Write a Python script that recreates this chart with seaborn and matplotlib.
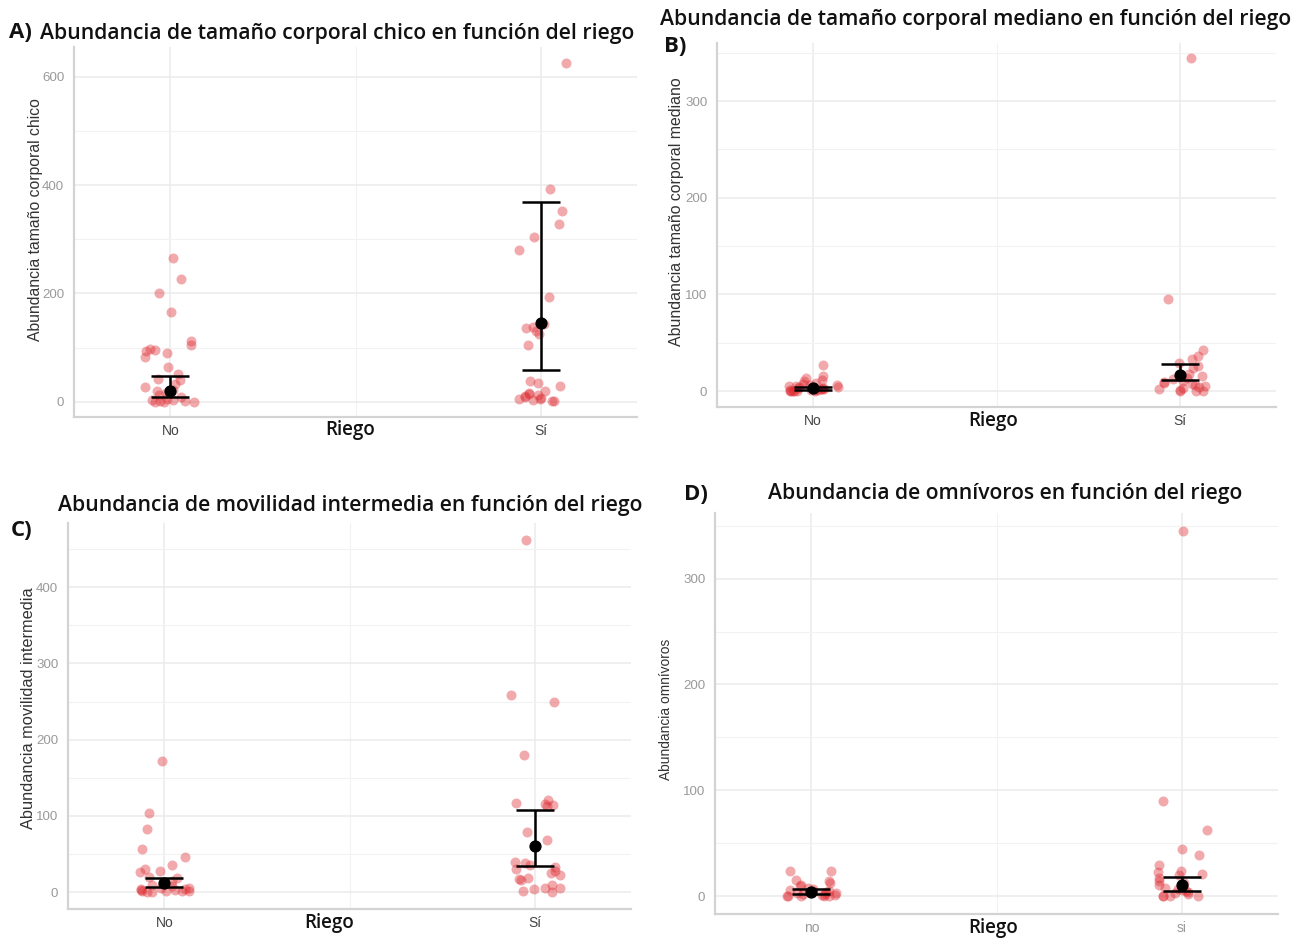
import numpy as np
import pandas as pd
import matplotlib
matplotlib.use("Agg")
import matplotlib.pyplot as plt
import seaborn as sns

# ---------------- data ----------------
categories_upper = ["No", "Sí"]
categories_lower = ["no", "si"]

# Panel A: tamaño corporal chico
a_no = [266, 226, 200, 165, 113, 105, 97, 96, 94, 90, 82, 64, 52, 42, 40, 33, 28, 22, 20, 16, 12, 8, 5, 4, 3, 2, 1, 0, 0, 0]
a_si = [625, 392, 352, 328, 305, 281, 193, 144, 139, 137, 130, 126, 104, 39, 34, 30, 20, 16, 14, 12, 10, 8, 7, 6, 5, 4, 2, 1]
a_mean = [20, 145]
a_low = [8, 58]
a_high = [48, 368]

# Panel B: tamaño corporal mediano
b_no = [27, 16, 13, 11, 10, 8, 7, 6, 5, 4, 4, 3, 3, 2, 2, 1, 1, 1, 0, 0, 0, 0, 0, 0, 5, 6, 2, 1]
b_si = [345, 95, 42, 36, 33, 29, 26, 24, 18, 16, 14, 12, 10, 9, 8, 7, 6, 5, 4, 3, 2, 1, 0, 0, 0]
b_mean = [3, 17]
b_low = [1.5, 11]
b_high = [4.5, 28]

# Panel C: movilidad intermedia
c_no = [172, 104, 83, 57, 46, 36, 31, 28, 26, 20, 18, 15, 12, 10, 8, 6, 5, 4, 3, 2, 2, 1, 1, 0, 0, 3, 4]
c_si = [462, 258, 250, 180, 121, 117, 115, 114, 113, 79, 68, 39, 38, 36, 33, 30, 28, 25, 22, 18, 17, 16, 10, 6, 5, 4, 1, 0]
c_mean = [12, 60]
c_low = [7, 34]
c_high = [19, 108]

# Panel D: omnívoros
d_no = [24, 24, 15, 14, 12, 10, 9, 8, 7, 6, 5, 5, 4, 3, 3, 2, 2, 1, 1, 0, 0, 0, 0, 0]
d_si = [345, 90, 62, 44, 39, 29, 24, 23, 21, 20, 17, 14, 12, 10, 8, 7, 6, 5, 4, 3, 2, 0, 0, 0, 0]
d_mean = [4, 10]
d_low = [2, 5]
d_high = [7, 18]

titles = [
    "Abundancia de tamaño corporal chico en función del riego",
    "Abundancia de tamaño corporal mediano en función del riego",
    "Abundancia de movilidad intermedia en función del riego",
    "Abundancia de omnívoros en función del riego",
]
ylabels = [
    "Abundancia tamaño corporal chico",
    "Abundancia tamaño corporal mediano",
    "Abundancia movilidad intermedia",
    "Abundancia omnívoros",
]
xlabel = "Riego"
letters = ["A)", "B)", "C)", "D)"]

# ---------------- style ----------------
sns.set_theme(style="white")
plt.rcParams["font.family"] = ["Open Sans", "DejaVu Sans"]
TICKFONT = ["Liberation Sans Narrow", "Liberation Sans", "DejaVu Sans"]

W, H = 1306, 938
fig = plt.figure(figsize=(W / 100, H / 100), dpi=100)
fig.patch.set_facecolor("white")


def axes_px(l, t, r, b):
    return fig.add_axes([l / W, 1 - b / H, (r - l) / W, (b - t) / H])


np.random.seed(3)


def panel(ax, no, si, mean, low, high, cats, ylim, yticks, xtick_color):
    df = pd.DataFrame({
        "Riego": [cats[0]] * len(no) + [cats[1]] * len(si),
        "valor": list(no) + list(si),
    })
    sns.stripplot(data=df, x="Riego", y="valor", order=cats, jitter=0.072,
                  color="#DD2A30", alpha=0.4, size=7.2, linewidth=0, ax=ax, zorder=3)
    mean = np.asarray(mean, float)
    yerr = np.vstack([mean - np.asarray(low, float), np.asarray(high, float) - mean])
    ax.errorbar([0, 1], mean, yerr=yerr, fmt="o", color="black", ms=7.8,
                elinewidth=1.8, capsize=13.5, capthick=1.8, zorder=5)
    ax.set_yticks(yticks)
    step = yticks[1] - yticks[0]
    minor = [v + step / 2 for v in list(yticks)]
    ax.set_yticks(minor, minor=True)
    ax.set_xticks([0.5], minor=True)
    ax.set_xlim(-0.26, 1.26)
    ax.set_ylim(*ylim)
    ax.grid(True, which="major", color="#EBEBEB", linewidth=1.1, zorder=0)
    ax.grid(True, which="minor", color="#F2F2F2", linewidth=0.8, zorder=0)
    ax.set_axisbelow(True)
    for s in ["top", "right"]:
        ax.spines[s].set_visible(False)
    for s in ["left", "bottom"]:
        ax.spines[s].set_color("#D3D3D3")
        ax.spines[s].set_linewidth(1.6)
    ax.tick_params(axis="both", which="both", length=0)
    ax.tick_params(axis="y", pad=7, labelcolor="#9A9A9A", labelsize=9.6)
    ax.tick_params(axis="x", pad=5, labelcolor=xtick_color, labelsize=10)
    for lab in ax.get_yticklabels() + ax.get_xticklabels():
        lab.set_family(TICKFONT)
    ax.set_xlabel("")
    ax.set_ylabel("")


axA = axes_px(74, 47, 637, 417)
panel(axA, a_no, a_si, a_mean, a_low, a_high, categories_upper, (-28, 655), [0, 200, 400, 600], "#444444")
axB = axes_px(717, 43, 1276, 407)
panel(axB, b_no, b_si, b_mean, b_low, b_high, categories_upper, (-16.5, 360), [0, 100, 200, 300], "#444444")
axC = axes_px(68, 523, 631, 909)
panel(axC, c_no, c_si, c_mean, c_low, c_high, categories_upper, (-22, 484), [0, 100, 200, 300, 400], "#444444")
axD = axes_px(715, 513, 1278, 914)
panel(axD, d_no, d_si, d_mean, d_low, d_high, categories_lower, (-17, 362), [0, 100, 200, 300], "#999999")


def ftext(x, y, s, **kw):
    fig.text(x / W, 1 - y / H, s, **kw)


TSIZE = 15.2
TW = "semibold"
# titles
ftext(40, 33, titles[0], ha="left", va="center", fontsize=TSIZE, fontweight=TW, color="#111111")
ftext(660, 19, titles[1], ha="left", va="center", fontsize=TSIZE, fontweight=TW, color="#111111")
ftext(58, 505, titles[2], ha="left", va="center", fontsize=TSIZE, fontweight=TW, color="#111111")
ftext(768, 494, titles[3], ha="left", va="center", fontsize=TSIZE, fontweight=TW, color="#111111")
# letters
for (x, y), s in zip([(9, 33), (664, 46), (11, 530), (684, 494)], letters):
    ftext(x, y, s, ha="left", va="center", fontsize=16, fontweight="bold", color="#111111")
# x labels
for (x, y) in [(350, 430), (993, 421), (329, 923), (993, 928)]:
    ftext(x, y, xlabel, ha="center", va="center", fontsize=13.5, fontweight="semibold", color="#111111")
# y labels
for (x, y), s, fs in zip([(36, 220), (676, 212), (29, 708), (666, 709)], ylabels,
                         [11.3, 11.4, 11.8, 9.9]):
    ftext(x, y, s, ha="center", va="center", rotation=90, fontsize=fs,
          color="#333333", family=["Liberation Sans", "DejaVu Sans"])

fig.savefig("out.png", dpi=100, facecolor="white")
